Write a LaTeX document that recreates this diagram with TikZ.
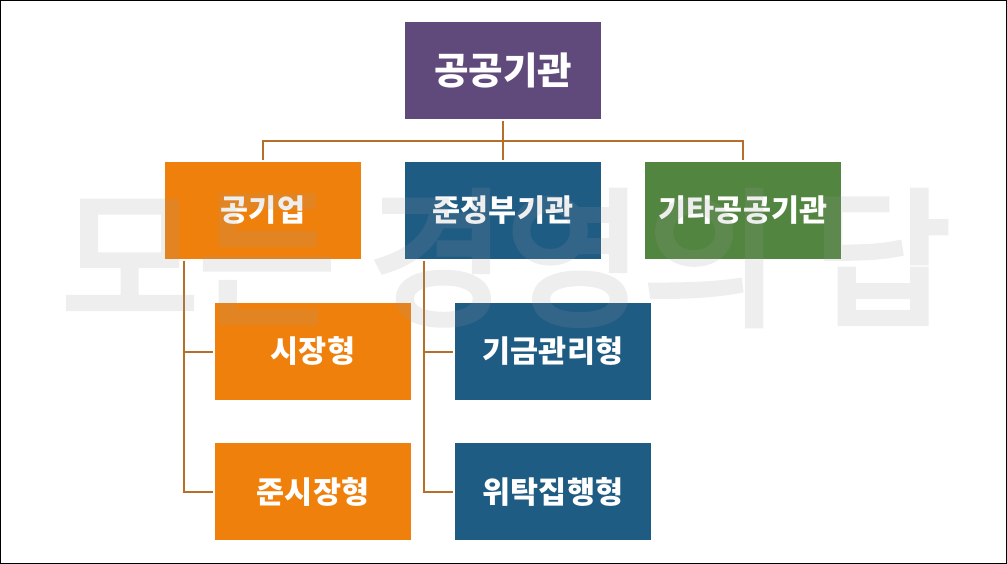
\documentclass[tikz,border=0pt]{standalone}
\usepackage{fontspec}
\setmainfont{Noto Sans CJK KR}
\newfontfamily\kr{Noto Sans CJK KR}
\newfontfamily\krw[FakeBold=4]{Noto Sans CJK KR}
\definecolor{cpurple}{HTML}{604A7B}
\definecolor{corange}{HTML}{F0800C}
\definecolor{cblue}{HTML}{1F5C84}
\definecolor{cgreen}{HTML}{528540}
\definecolor{cline}{HTML}{B4702A}
\tikzset{
  box/.style={minimum width=196pt,minimum height=97pt,inner sep=0pt,outer sep=0pt,text=white,font=\kr\bfseries\fontsize{30.5}{34}\selectfont},
  link/.style={draw=cline,line width=2pt},
}
\begin{document}
\begin{tikzpicture}[x=1pt,y=-1pt]
\useasboundingbox (0,0) rectangle (1007,564);
\fill[white] (0,0) rectangle (1007,564);
\node[box,fill=cpurple,font=\kr\bfseries\fontsize{37.5}{42}\selectfont] (root) at (503,70.5) {공공기관};
\node[box,fill=corange] (a) at (263,210.5) {공기업};
\node[box,fill=cblue] (b) at (503,210.5) {준정부기관};
\node[box,fill=cgreen] (c) at (743,210.5) {기타공공기관};
\node[box,fill=corange] (a1) at (313,351.5) {시장형};
\node[box,fill=corange] (a2) at (313,491.5) {준시장형};
\node[box,fill=cblue] (b1) at (553,351.5) {기금관리형};
\node[box,fill=cblue] (b2) at (553,491.5) {위탁집행형};
\coordinate (hub) at (503,141);
\draw[link] ([yshift=-2pt]root.south) -- ([yshift=2pt]b.north);
\draw[link] ([yshift=2pt]a.north) |- (hub) -| ([yshift=2pt]c.north);
\draw[link] ([xshift=-79pt,yshift=-2pt]a.south) |- ([xshift=-2pt]a2.west);
\draw[link] ([xshift=-79pt]a1.west-|a.south) -- ([xshift=-2pt]a1.west);
\draw[link] ([xshift=-79pt,yshift=-2pt]b.south) |- ([xshift=-2pt]b2.west);
\draw[link] ([xshift=-79pt]b1.west-|b.south) -- ([xshift=-2pt]b1.west);
\begin{scope}[transparency group,opacity=.16]
\node[text=black!40,font=\krw\fontsize{149}{160}\selectfont,inner sep=0pt] (wm) at (506,258) {모든 경영의 답};
\end{scope}
\draw[black,line width=2pt] (0,0) rectangle (1007,564);
\end{tikzpicture}
\end{document}
